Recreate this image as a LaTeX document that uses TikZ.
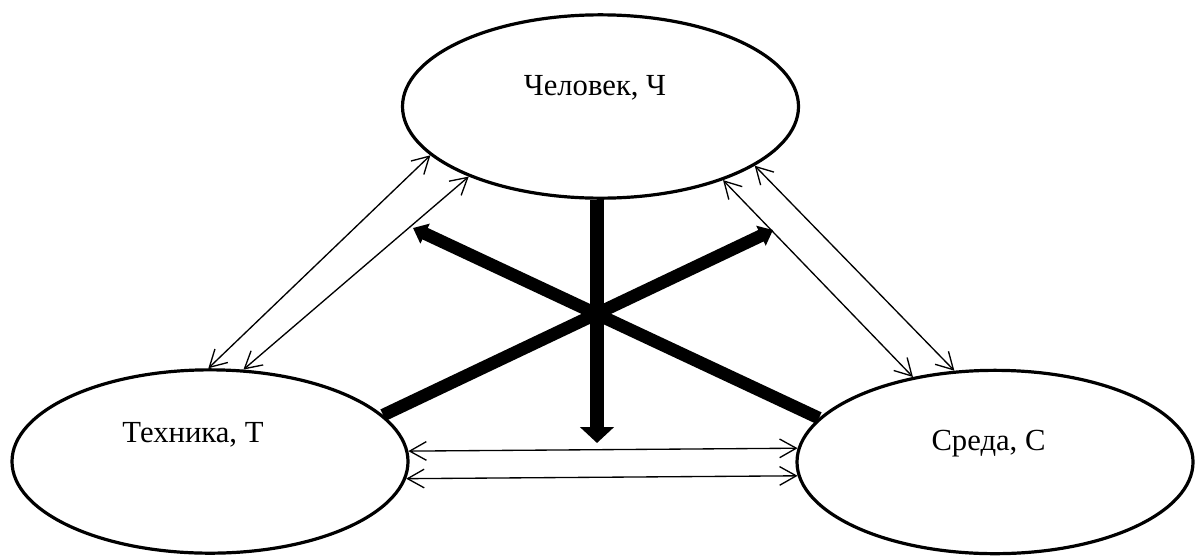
\documentclass[tikz,border=0pt]{standalone}
\usepackage{fontspec}
\setmainfont{Liberation Serif}
\usetikzlibrary{shapes.geometric,arrows.meta}
\begin{document}
\begin{tikzpicture}[x=0.75pt,y=-0.75pt,
						every node/.style={anchor=base}]
						\tikzstyle{oval}=[ellipse,draw,line width=2.4pt,minimum width=297pt,minimum height=137.5pt,inner sep=0pt,anchor=center];
						\tikzstyle{nazv}=[font=\fontsize{23}{27}\selectfont];
						\tikzstyle{svyaz}=[line width=1pt,{Straight Barb[length=12.5pt,width=14pt]}-{Straight Barb[length=12.5pt,width=14pt]}];
						\tikzstyle{vliyanie}=[line width=9.5pt,-{Triangle[length=10pt,width=16pt]}];
						\useasboundingbox (0,0) rectangle (1201,557);
						\node[oval](chel) at (600.5,106.5) {};
						\node[oval](tekh) at (210,461.5) {};
						\node[oval](sreda) at (995,462) {};
						\node[nazv](chel-t) at (595,95) {Человек, Ч};
						\node[nazv](tekh-t) at (193,442) {Техника, Т};
						\node[nazv](sreda-t) at (988.5,450) {Среда, С};
						\coordinate(ch-sr) at (773,230);
						\coordinate(ch-te) at (413,228);
						\coordinate(te-sr) at (597,443);
						% two-way links between the elements
						\draw[svyaz] (chel.196.8) -- (tekh.91.2);
						\draw[svyaz] (chel.208.4) -- (tekh.70.2);
						\draw[svyaz] (chel.329) -- (sreda.134.4);
						\draw[svyaz] (chel.339.5) -- (sreda.114.5);
						\draw[svyaz] (tekh.3.6) -- (sreda.176.2);
						\draw[svyaz] (tekh.355.2) -- (sreda.184.6);
						% each element acts on the opposite link
						\draw[vliyanie,line width=11pt,-{Triangle[length=12pt,width=25pt]}] (chel.south -| te-sr) -- (te-sr);
						\draw[vliyanie] (tekh.15.5) -- (ch-sr);
						\draw[vliyanie] (sreda.166) -- (ch-te);
					\end{tikzpicture}
\end{document}
